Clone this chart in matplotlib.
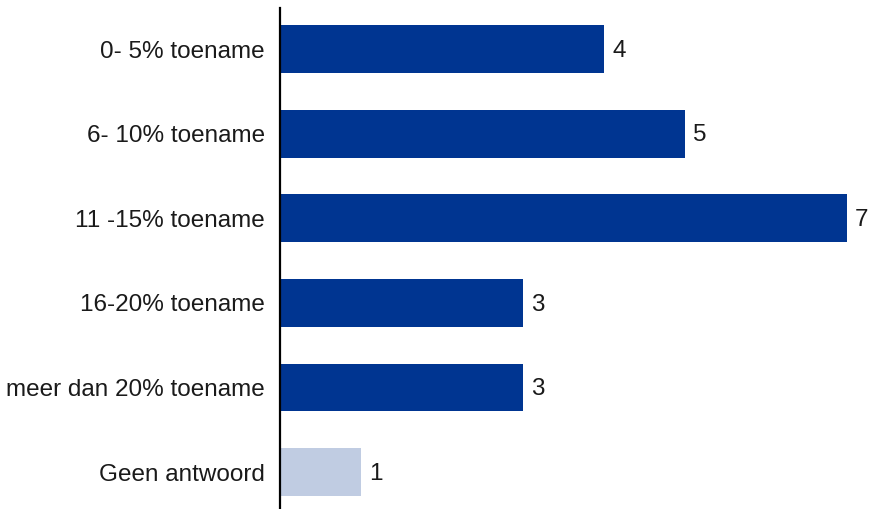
import matplotlib
matplotlib.use("Agg")
import matplotlib.pyplot as plt

categories = ["0- 5% toename", "6- 10% toename", "11 -15% toename",
              "16-20% toename", "meer dan 20% toename", "Geen antwoord"]
values = [4, 5, 7, 3, 3, 1]
colors = ["#003591"] * 5 + ["#C0CCE2"]

plt.rcParams["font.family"] = ["Liberation Sans", "DejaVu Sans"]

fig = plt.figure(figsize=(8.76, 5.09), dpi=100)
ax = fig.add_axes([280 / 876, 0.0, 596 / 876, 501 / 509])

pos = range(len(categories))
ax.barh(pos, values, height=0.565, color=colors)
for p, v in zip(pos, values):
    ax.text(v + 0.1, p + 0.02, str(v), va="center", ha="left", fontsize=17.5, color="#1a1a1a")

ax.set_xlim(0, 596 / 81)
ax.set_ylim(5.437, -0.485)
ax.set_yticks(list(pos))
ax.set_yticklabels(categories, fontsize=17.5, color="#1a1a1a")
ax.tick_params(axis="y", length=0, pad=11)
ax.set_xticks([])
for s in ["top", "right", "bottom"]:
    ax.spines[s].set_visible(False)
ax.spines["left"].set_linewidth(1.6)
ax.spines["left"].set_color("black")

fig.savefig("out.png", dpi=100)
